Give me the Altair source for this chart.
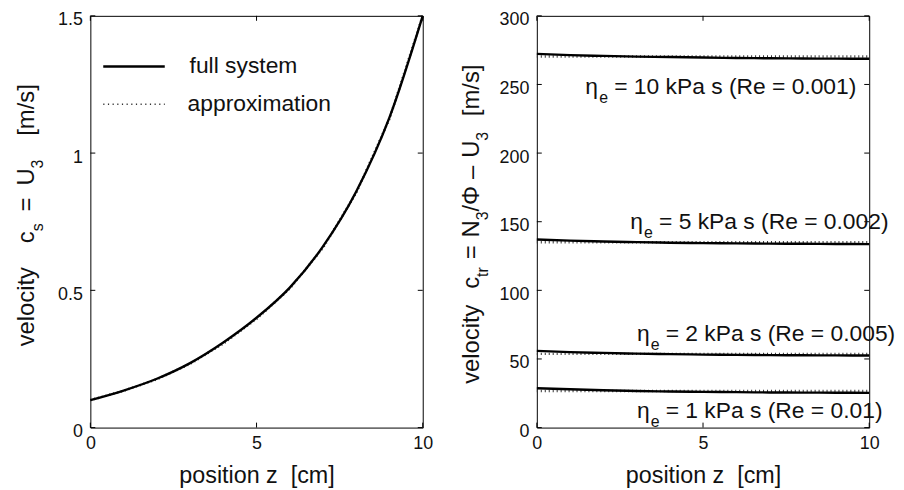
import altair as alt
import pandas as pd

# ----------------------------- data -----------------------------
z_pos = [0, 1, 2, 3, 4, 5, 6, 7, 8, 9, 10]

# left panel: c_s = U_3  [m/s]
cs_full = [0.100, 0.135, 0.178, 0.235, 0.310, 0.400, 0.510, 0.660, 0.860, 1.130, 1.500]
cs_approx = [0.100, 0.134, 0.176, 0.232, 0.306, 0.396, 0.506, 0.655, 0.855, 1.125, 1.500]

# right panel: c_tr = N_3/Phi - U_3  [m/s]
ctr_full_10 = [272.3, 271.4, 270.8, 270.3, 270.0, 269.6, 269.3, 269.1, 268.9, 268.8, 268.7]
ctr_full_5 = [137.0, 136.2, 135.6, 135.1, 134.7, 134.4, 134.2, 134.0, 133.9, 133.8, 133.7]
ctr_full_2 = [55.9, 55.0, 54.4, 53.9, 53.5, 53.2, 53.0, 52.8, 52.7, 52.6, 52.5]
ctr_full_1 = [28.7, 27.9, 27.2, 26.7, 26.3, 26.0, 25.8, 25.6, 25.5, 25.4, 25.3]

z_approx = [0, 10]
ctr_approx_10 = [270.3, 270.3]
ctr_approx_5 = [135.0, 135.0]
ctr_approx_2 = [53.7, 53.7]
ctr_approx_1 = [26.7, 26.7]

eta_values = ["10", "5", "2", "1"]
re_values = ["0.001", "0.002", "0.005", "0.01"]
label_z = [1.46, 2.81, 3.01, 3.01]
label_v = [243.0, 144.6, 62.9, 6.9]

x_ticks = [0, 5, 10]
y_ticks_left = [0, 0.5, 1, 1.5]
y_ticks_right = [0, 50, 100, 150, 200, 250, 300]

# ----------------------------- tables -----------------------------
left_full = pd.DataFrame({"z": z_pos, "v": cs_full, "series": "cs"})
left_approx = pd.DataFrame({"z": z_pos, "v": cs_approx, "series": "cs"})

right_full = pd.concat([
    pd.DataFrame({"z": z_pos, "v": vals, "series": name})
    for name, vals in [("10", ctr_full_10), ("5", ctr_full_5), ("2", ctr_full_2), ("1", ctr_full_1)]
])
right_approx = pd.concat([
    pd.DataFrame({"z": z_approx, "v": vals, "series": name})
    for name, vals in [("10", ctr_approx_10), ("5", ctr_approx_5), ("2", ctr_approx_2), ("1", ctr_approx_1)]
])
labels = pd.DataFrame({
    "z": label_z, "v": label_v,
    "main": [f"= {e} kPa s (Re = {r})" for e, r in zip(eta_values, re_values)],
})

# ----------------------------- style -----------------------------
W, H, TL = 335, 415, 5
FONT = "Liberation Sans"
INK = "#111111"
ONE = pd.DataFrame({"a": [0]})
FT, FS = 24, 16          # rotated title main / subscript font sizes
FA = 23                  # annotation / legend font size

# approximate Arial advance widths (em) for laying out the rotated titles
EM = {"v": .5, "e": .556, "l": .222, "o": .556, "c": .5, "i": .222, "t": .278, "y": .5,
      "s": .5, "=": .584, "U": .722, "3": .556, "[": .278, "m": .833, "/": .278, "]": .278,
      "r": .333, "N": .722, "\u03a6": .76, "\u2013": .556, " ": .278}


def tlen(s, size):
    return sum(EM.get(ch, .556) for ch in s) * size


def xenc(field="z"):
    return alt.X(f"{field}:Q",
                 scale=alt.Scale(domain=[0, 10], nice=False, zero=False),
                 axis=alt.Axis(values=x_ticks, title="position z\u00a0\u00a0[cm]",
                               titlePadding=11, labelPadding=7))


def yenc(dom, ticks, field="v"):
    return alt.Y(f"{field}:Q",
                 scale=alt.Scale(domain=dom, nice=False, zero=False),
                 axis=alt.Axis(values=ticks, title="", format="~r", labelPadding=8, labelOffset=4))


def rtext(txt, x, y, size):
    return alt.Chart(ONE).mark_text(
        text=txt, angle=270, align="left", baseline="alphabetic",
        fontSize=size, color=INK, font=FONT
    ).encode(x=alt.value(x), y=alt.value(y))


def htext(txt, x, y, size=FA):
    return alt.Chart(ONE).mark_text(
        text=txt, align="left", baseline="middle", fontSize=size, color=INK, font=FONT
    ).encode(x=alt.value(x), y=alt.value(y))


def rotated_title(pieces, x_main, x_sub, center, space=0.30):
    def plen(p):
        txt, kind = p
        if kind == "g":
            return txt * space * FT
        return tlen(txt, FT if kind == "m" else FS)
    total = sum(plen(p) for p in pieces)
    y = center + total / 2
    out = []
    for p in pieces:
        txt, kind = p
        if kind != "g":
            out.append(rtext(txt, x_main if kind == "m" else x_sub, round(y, 1),
                             FT if kind == "m" else FS))
        y -= plen(p)
    return out


def panel(full_df, approx_df, dom, yticks):
    tx = pd.DataFrame({"z": x_ticks})
    ty = pd.DataFrame({"v": yticks})
    X = xenc()
    Y = yenc(dom, yticks)
    approx = alt.Chart(approx_df).mark_line(
        color="#333333", strokeWidth=2.5, strokeDash=[1, 3]
    ).encode(x=X, y=Y, detail="series:N")
    full = alt.Chart(full_df).mark_line(
        color="black", strokeWidth=2.4, interpolate="monotone"
    ).encode(x=X, y=Y, detail="series:N")
    tb = alt.Chart(tx).mark_rule(color="black", strokeWidth=1).encode(
        x=X, y=alt.value(H), y2=alt.value(H - TL))
    tt = alt.Chart(tx).mark_rule(color="black", strokeWidth=1).encode(
        x=X, y=alt.value(0), y2=alt.value(TL))
    tl = alt.Chart(ty).mark_rule(color="black", strokeWidth=1).encode(
        y=Y, x=alt.value(0), x2=alt.value(TL))
    tr = alt.Chart(ty).mark_rule(color="black", strokeWidth=1).encode(
        y=Y, x=alt.value(W), x2=alt.value(W - TL))
    return [approx, full, tb, tt, tl, tr]


# ----------------------------- left panel -----------------------------
left_layers = panel(left_full, left_approx, [0, 1.5], y_ticks_left)
legend_full = alt.Chart(ONE).mark_rule(color="black", strokeWidth=2.4).encode(
    x=alt.value(13), x2=alt.value(75), y=alt.value(51))
legend_approx = alt.Chart(ONE).mark_rule(color="#333333", strokeWidth=1.5, strokeDash=[1.2, 3.5]).encode(
    x=alt.value(13), x2=alt.value(75), y=alt.value(89))
left_layers += [
    legend_full, legend_approx,
    htext("full system", 100, 51),
    htext("approximation", 98, 89),
]
left_layers += rotated_title(
    [("velocity", "m"), (2, "g"), ("c", "m"), ("s", "s"), (1, "g"), ("=", "m"), (1, "g"),
     ("U", "m"), ("3", "s"), (2, "g"), ("[m/s]", "m")],
    x_main=-57, x_sub=-48, center=201, space=0.50)
left = alt.layer(*left_layers).properties(width=W, height=H)

# ----------------------------- right panel -----------------------------
right_layers = panel(right_full, right_approx, [0, 300], y_ticks_right)
Xr = xenc()
Yr = yenc([0, 300], y_ticks_right)
right_layers += [
    alt.Chart(labels).mark_text(text="\u03b7", align="left", baseline="alphabetic",
                                fontSize=FA, color=INK, font=FONT).encode(x=Xr, y=Yr),
    alt.Chart(labels).mark_text(text="e", align="left", baseline="alphabetic", dx=14, dy=9,
                                fontSize=FS, color=INK, font=FONT).encode(x=Xr, y=Yr),
    alt.Chart(labels).mark_text(align="left", baseline="alphabetic", dx=29,
                                fontSize=FA, color=INK, font=FONT).encode(x=Xr, y=Yr, text="main:N"),
]
right_layers += rotated_title(
    [("velocity", "m"), (2, "g"), ("c", "m"), ("tr", "s"), (1, "g"), ("=", "m"), (1, "g"),
     ("N", "m"), ("3", "s"), ("/", "m"), ("\u03a6", "m"), (1, "g"), ("\u2013", "m"), (1, "g"),
     ("U", "m"), ("3", "s"), (2, "g"), ("[m/s]", "m")],
    x_main=-58, x_sub=-49, center=210, space=0.33)
right = alt.layer(*right_layers).properties(width=W, height=H)

chart = alt.hconcat(left, right, spacing=115, bounds="flush").properties(
    padding={"left": 6, "top": 0, "right": 0, "bottom": 0}
).configure(font=FONT).configure_view(
    stroke="black", strokeWidth=1
).configure_axis(
    grid=False, ticks=False, domain=False, labelFlush=False,
    labelFontSize=18, labelColor=INK, labelFont=FONT,
    titleFontSize=23.5, titleFontWeight="normal", titleColor=INK, titleFont=FONT
)

chart.save("out.html", embed_options={"renderer": "svg", "actions": False})
